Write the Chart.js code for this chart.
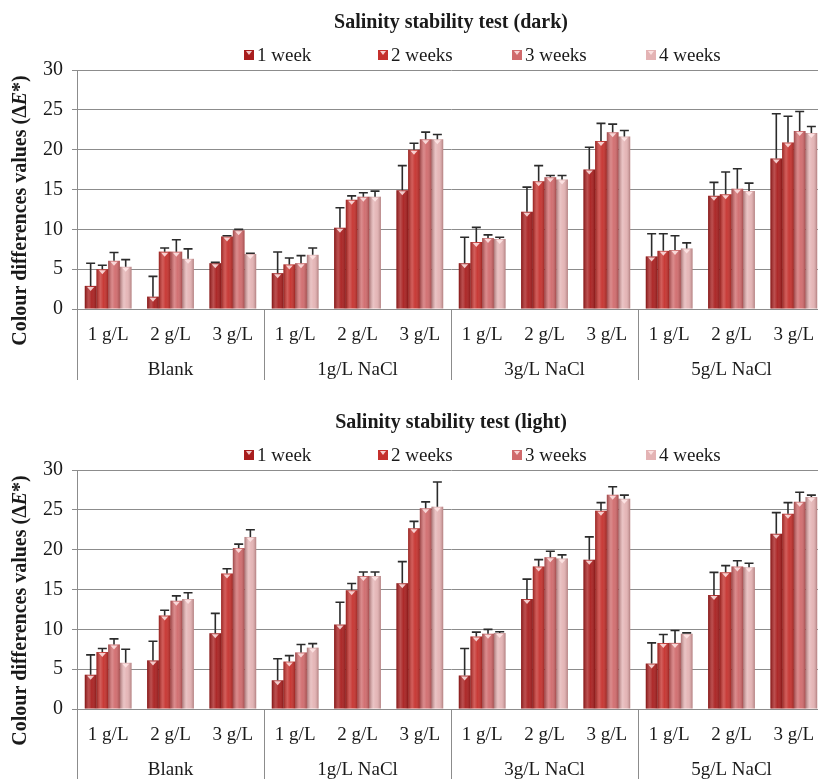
<!DOCTYPE html>
<html>
<head>
<meta charset="utf-8">
<script src="https://cdn.jsdelivr.net/npm/chart.js@4"></script>
<style>
  html, body { margin: 0; padding: 0; background: #fff; overflow: hidden; width: 818px; height: 779px; }
  .box { position: absolute; left: 0; width: 830px; height: 390px; }
</style>
</head>
<body>
<div class="box" style="top:0"><canvas id="dark" width="830" height="390"></canvas></div>
<div class="box" style="top:400px"><canvas id="light" width="830" height="390"></canvas></div>
<script>
const categories = ['1 g/L', '2 g/L', '3 g/L', '1 g/L', '2 g/L', '3 g/L',
                    '1 g/L', '2 g/L', '3 g/L', '1 g/L', '2 g/L', '3 g/L'];
const groups = ['Blank', '1g/L NaCl', '3g/L NaCl', '5g/L NaCl'];
const seriesNames = ['1 week', '2 weeks', '3 weeks', '4 weeks'];
const seriesColors = ['#a81d1d', '#c5302c', '#d06a6c', '#e4b3b4'];

// dark test: bar values and upper error (sd)
const darkWeek1 = [2.9, 1.55, 5.75, 4.5, 10.2, 14.9, 5.75, 12.2, 17.5, 6.6, 14.2, 18.9];
const darkWeek2 = [5.0, 7.2, 9.1, 5.6, 13.7, 20.0, 8.4, 16.05, 21.1, 7.3, 14.4, 20.9];
const darkWeek3 = [6.05, 7.2, 9.9, 5.75, 14.1, 21.3, 8.9, 16.55, 22.2, 7.4, 15.1, 22.35];
const darkWeek4 = [5.3, 6.3, 6.9, 6.8, 14.1, 21.3, 8.8, 16.25, 21.65, 7.6, 14.8, 22.1];
const darkSd1 = [2.85, 2.55, 0.1, 2.65, 2.5, 3.1, 3.25, 3.1, 2.8, 2.85, 1.7, 5.6];
const darkSd2 = [0.5, 0.45, 0.1, 0.8, 0.5, 0.8, 1.85, 1.95, 2.2, 2.15, 2.8, 3.3];
const darkSd3 = [1.05, 1.5, 0.1, 0.95, 0.5, 0.9, 0.4, 0.2, 1.0, 1.8, 2.5, 2.45];
const darkSd4 = [0.9, 1.25, 0.1, 0.85, 0.7, 0.6, 0.2, 0.5, 0.75, 0.7, 1.0, 0.8];

// light test
const lightWeek1 = [4.3, 6.1, 9.5, 3.6, 10.6, 15.8, 4.2, 13.8, 18.75, 5.7, 14.3, 22.0];
const lightWeek2 = [7.15, 11.75, 17.0, 5.95, 14.9, 22.7, 9.1, 17.9, 24.9, 8.3, 17.15, 24.5];
const lightWeek3 = [8.1, 13.6, 20.2, 7.1, 16.7, 25.2, 9.45, 19.05, 26.9, 8.3, 17.9, 26.0];
const lightWeek4 = [5.8, 13.8, 21.6, 7.7, 16.7, 25.4, 9.55, 18.9, 26.4, 9.45, 17.8, 26.6];
const lightSd1 = [2.5, 2.4, 2.5, 2.7, 2.8, 2.7, 3.4, 2.5, 2.85, 2.6, 2.85, 2.65];
const lightSd2 = [0.45, 0.65, 0.6, 0.75, 0.85, 0.85, 0.55, 0.85, 1.0, 1.05, 0.85, 1.4];
const lightSd3 = [0.7, 0.6, 0.5, 1.0, 0.5, 0.8, 0.55, 0.75, 1.0, 1.55, 0.7, 1.2];
const lightSd4 = [1.7, 0.8, 0.9, 0.5, 0.5, 3.1, 0.15, 0.45, 0.45, 0.1, 0.5, 0.25];

const yMin = 0, yMax = 30, yStep = 5;
const SERIF = "'Liberation Serif', 'Times New Roman', Times, serif";

const decor = {
  id: 'decor',
  afterDatasetsDraw(chart) {
    const ctx = chart.ctx;
    const ys = chart.scales.y;
    ctx.save();
    chart.data.datasets.forEach((ds, di) => {
      chart.getDatasetMeta(di).data.forEach(bar => {
        const left = bar.x - bar.width / 2;
        const g = ctx.createLinearGradient(left, 0, left + bar.width, 0);
        g.addColorStop(0, 'rgba(60,0,0,0.35)');
        g.addColorStop(0.35, 'rgba(255,255,255,0.22)');
        g.addColorStop(0.6, 'rgba(255,255,255,0.05)');
        g.addColorStop(1, 'rgba(60,0,0,0.3)');
        ctx.fillStyle = g;
        ctx.fillRect(left, bar.y, bar.width, bar.base - bar.y);
        ctx.fillStyle = 'rgba(255,232,232,0.85)';
        ctx.beginPath();
        ctx.moveTo(bar.x - 3.5, bar.y + 1);
        ctx.lineTo(bar.x + 3.5, bar.y + 1);
        ctx.lineTo(bar.x, bar.y + 5);
        ctx.closePath();
        ctx.fill();
      });
    });
    // error bars on top of everything
    ctx.strokeStyle = '#2b2b2b';
    ctx.lineWidth = 1.6;
    chart.data.datasets.forEach((ds, di) => {
      chart.getDatasetMeta(di).data.forEach((bar, i) => {
        const top = ys.getPixelForValue(ds.data[i] + ds.sd[i]);
        ctx.beginPath();
        ctx.moveTo(bar.x, bar.y);
        ctx.lineTo(bar.x, top);
        ctx.moveTo(bar.x - 4.5, top);
        ctx.lineTo(bar.x + 4.5, top);
        ctx.stroke();
      });
    });
    ctx.restore();
  },
  afterDraw(chart, args, opts) {
    const ctx = chart.ctx;
    const area = chart.chartArea;
    const xs = chart.scales.x;
    const bottom = area.bottom + 71;
    ctx.save();

    // title
    ctx.fillStyle = '#1a1a1a';
    ctx.textAlign = 'center';
    ctx.textBaseline = 'middle';
    ctx.font = 'bold 20px ' + SERIF;
    ctx.fillText(opts.title, (area.left + area.right) / 2, 23);

    // legend
    ctx.font = '19px ' + SERIF;
    ctx.textAlign = 'left';
    seriesNames.forEach((name, i) => {
      const x0 = area.left + 167 + i * 134;
      ctx.fillStyle = seriesColors[i];
      ctx.fillRect(x0, 50, 10, 10);
      ctx.fillStyle = 'rgba(255,232,232,0.85)';
      ctx.beginPath();
      ctx.moveTo(x0 + 2, 51); ctx.lineTo(x0 + 8, 51); ctx.lineTo(x0 + 5, 55);
      ctx.closePath(); ctx.fill();
      ctx.fillStyle = '#1a1a1a';
      ctx.fillText(name, x0 + 13, 56);
    });

    // y axis title, E in italics
    ctx.save();
    ctx.translate(21, (area.top + area.bottom) / 2 + 21);
    ctx.rotate(-Math.PI / 2);
    const p1 = 'Colour differences values (\u0394';
    const p2 = 'E';
    const p3 = '*)';
    ctx.font = 'bold 20px ' + SERIF;
    const w1 = ctx.measureText(p1).width, w3 = ctx.measureText(p3).width;
    ctx.font = 'italic bold 20px ' + SERIF;
    const w2 = ctx.measureText(p2).width;
    let x = -(w1 + w2 + w3) / 2;
    ctx.textAlign = 'left';
    ctx.font = 'bold 20px ' + SERIF;
    ctx.fillText(p1, x, 0); x += w1;
    ctx.font = 'italic bold 20px ' + SERIF;
    ctx.fillText(p2, x, 0); x += w2;
    ctx.font = 'bold 20px ' + SERIF;
    ctx.fillText(p3, x, 0);
    ctx.restore();

    // group separators, axis extension and group labels
    ctx.strokeStyle = '#8c8c8c';
    ctx.lineWidth = 1;
    ctx.beginPath();
    ctx.moveTo(area.left + 0.5, area.bottom);
    ctx.lineTo(area.left + 0.5, bottom);
    for (let gi = 1; gi < groups.length; gi++) {
      const sx = Math.round((xs.getPixelForTick(gi * 3 - 1) + xs.getPixelForTick(gi * 3)) / 2) + 0.5;
      ctx.moveTo(sx, area.bottom);
      ctx.lineTo(sx, bottom);
    }
    ctx.stroke();

    ctx.font = '19px ' + SERIF;
    ctx.textAlign = 'center';
    ctx.fillStyle = '#1a1a1a';
    groups.forEach((name, gi) => {
      const cx = (xs.getPixelForTick(gi * 3) + xs.getPixelForTick(gi * 3 + 2)) / 2;
      ctx.fillText(name, cx, area.bottom + 61);
    });
    ctx.restore();
  }
};

function makeChart(id, title, weeks, sds) {
  return new Chart(document.getElementById(id), {
    type: 'bar',
    data: {
      labels: categories,
      datasets: weeks.map((w, i) => ({
        label: seriesNames[i],
        data: w,
        sd: sds[i],
        backgroundColor: seriesColors[i],
        borderWidth: 0,
        categoryPercentage: 0.75,
        barPercentage: 1.0
      }))
    },
    options: {
      responsive: false,
      animation: false,
      layout: { padding: { top: 70, right: 5, left: 0, bottom: 0 } },
      plugins: {
        legend: { display: false },
        title: { display: false },
        tooltip: { enabled: false },
        decor: { title: title }
      },
      scales: {
        x: {
          grid: { display: false },
          border: { display: false },
          ticks: { font: { family: SERIF, size: 19 }, color: '#1a1a1a', padding: 7, maxRotation: 0, autoSkip: false },
          afterFit(s) { s.height = 81; }
        },
        y: {
          min: yMin, max: yMax,
          ticks: { stepSize: yStep, font: { family: SERIF, size: 20 }, color: '#1a1a1a', padding: 9 },
          grid: { color: '#8c8c8c', tickLength: 5 },
          border: { color: '#8c8c8c' },
          afterFit(s) { s.width = 77; }
        }
      }
    },
    plugins: [decor]
  });
}

function drawAll() {
  makeChart('dark', 'Salinity stability test (dark)',
    [darkWeek1, darkWeek2, darkWeek3, darkWeek4], [darkSd1, darkSd2, darkSd3, darkSd4]);
  makeChart('light', 'Salinity stability test (light)',
    [lightWeek1, lightWeek2, lightWeek3, lightWeek4], [lightSd1, lightSd2, lightSd3, lightSd4]);
}

Promise.all([
  document.fonts.load("19px 'Liberation Serif'"),
  document.fonts.load("bold 20px 'Liberation Serif'"),
  document.fonts.load("italic bold 20px 'Liberation Serif'")
]).then(drawAll, drawAll);
</script>
</body>
</html>
